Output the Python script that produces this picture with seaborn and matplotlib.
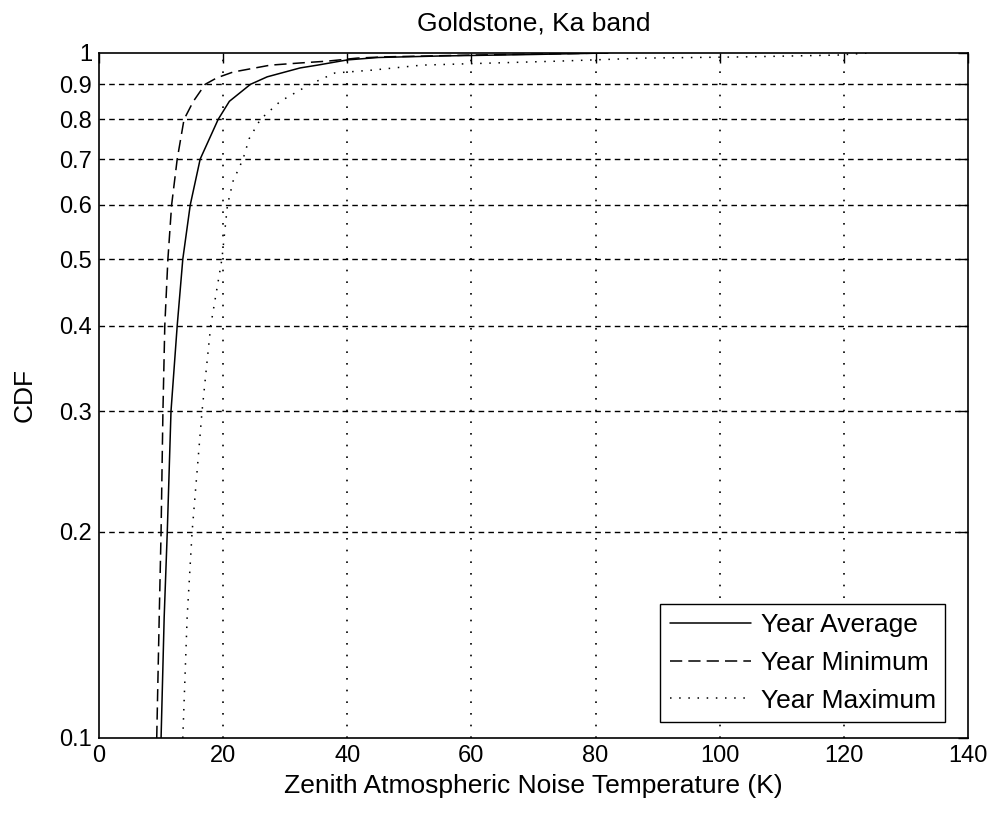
import matplotlib
matplotlib.use("Agg")
import matplotlib.pyplot as plt
import seaborn as sns
import pandas as pd
import numpy as np

# --- data ---
cdf_avg = [0.1, 0.15, 0.2, 0.3, 0.4, 0.5, 0.6, 0.7, 0.8, 0.85, 0.9, 0.923, 0.951, 0.96, 0.977, 0.985, 0.99, 0.995, 1.0]
t_avg   = [10.0, 10.5, 11.0, 11.6, 12.6, 13.5, 14.7, 16.3, 19.2, 21.0, 24.4, 27.1, 32.4, 35.2, 40.0, 45.0, 55.0, 70.0, 82.0]

cdf_min = [0.1, 0.15, 0.2, 0.3, 0.4, 0.5, 0.6, 0.7, 0.8, 0.85, 0.9, 0.92, 0.938, 0.96, 0.967, 0.973, 0.983, 0.987, 0.993, 1.0]
t_min   = [9.3, 9.7, 10.0, 10.3, 10.6, 11.1, 11.7, 12.6, 13.7, 15.2, 17.1, 19.0, 21.6, 27.6, 32.4, 36.8, 41.6, 45.8, 60.0, 82.0]

cdf_max = [0.1, 0.15, 0.2, 0.3, 0.4, 0.5, 0.6, 0.65, 0.7, 0.75, 0.8, 0.85, 0.9, 0.935, 0.944, 0.96, 0.966, 0.973, 0.983, 0.987, 0.993, 1.0]
t_max   = [13.5, 14.2, 15.0, 16.6, 18.0, 19.8, 20.7, 21.6, 23.2, 24.2, 26.0, 29.2, 34.0, 38.0, 44.0, 52.0, 62.0, 74.0, 88.0, 104.0, 119.0, 124.0]

series_names = ["Year Average", "Year Minimum", "Year Maximum"]
x_ticks = [0, 20, 40, 60, 80, 100, 120, 140]
y_ticks = [0.1, 0.2, 0.3, 0.4, 0.5, 0.6, 0.7, 0.8, 0.9, 1.0]
y_tick_labels = ["0.1", "0.2", "0.3", "0.4", "0.5", "0.6", "0.7", "0.8", "0.9", "1"]

frames = []
for name, t, c in zip(series_names, [t_avg, t_min, t_max], [cdf_avg, cdf_min, cdf_max]):
    frames.append(pd.DataFrame({"T": t, "CDF": c, "series": name}))
df = pd.concat(frames, ignore_index=True)

sns.set_style("white")
plt.rcParams["font.family"] = ["Liberation Sans", "DejaVu Sans"]
plt.rcParams["text.color"] = "black"
plt.rcParams["axes.labelcolor"] = "black"

fig = plt.figure(figsize=(9.93, 8.14), dpi=100)
ax = fig.add_axes([0.0997, 0.0934, 0.8751, 0.8415])

dash_map = {"Year Average": "", "Year Minimum": (8, 4), "Year Maximum": (1, 5)}
sns.lineplot(data=df, x="T", y="CDF", style="series", style_order=series_names,
             dashes=dash_map, color="black", sort=False, estimator=None,
             linewidth=1.1, ax=ax, legend=True)

ax.set_yscale("log")
ax.set_xlim(0, 140)
ax.set_ylim(0.1, 1.0)
ax.set_xticks(x_ticks)
ax.set_xticklabels([str(v) for v in x_ticks])
ax.set_yticks(y_ticks)
ax.set_yticklabels(y_tick_labels)
ax.yaxis.set_minor_locator(matplotlib.ticker.NullLocator())

for y in y_ticks[1:-1]:
    ax.axhline(y, color="black", lw=1.0, ls=(0, (4, 3)), zorder=0)
for x in x_ticks[1:-1]:
    ax.axvline(x, color="black", lw=1.2, ls=(0, (1, 6)), zorder=0)

ax.tick_params(direction="in", length=7, width=1.0, top=True, right=True,
               labelsize=17, colors="black", pad=5)
for s in ax.spines.values():
    s.set_color("black")
    s.set_linewidth(1.2)

ax.set_xlabel("Zenith Atmospheric Noise Temperature (K)", fontsize=19, labelpad=5, color="black")
ax.set_ylabel("CDF", fontsize=19, labelpad=16, color="black")
ax.set_title("Goldstone, Ka band", fontsize=19, pad=16, color="black")

leg = ax.legend(loc="lower right", bbox_to_anchor=(0.9735, 0.0234), borderaxespad=0,
                fancybox=False, edgecolor="black", framealpha=1, fontsize=19,
                handlelength=3.1, handletextpad=0.35, borderpad=0.35, labelspacing=0.52)
leg.get_frame().set_linewidth(1.0)
for t in leg.get_texts():
    t.set_color("black")

fig.savefig("out.png", dpi=100, facecolor="white")
